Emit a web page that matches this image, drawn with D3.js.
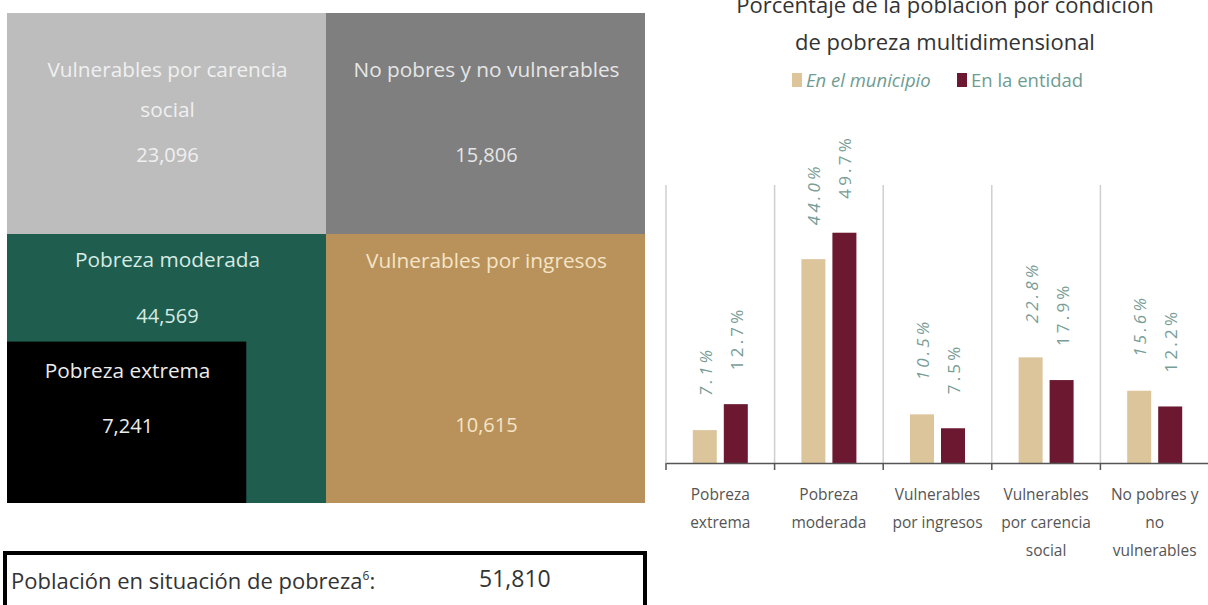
<!DOCTYPE html>
<html>
<head>
<meta charset="utf-8">
<script src="https://cdn.jsdelivr.net/npm/d3@7"></script>
<style>
  body { margin: 0; background: #fff; }
  svg { display: block; font-family: "Open Sans", sans-serif; }
</style>
</head>
<body>
<svg width="1208" height="605"></svg>
<script>
// tiles: population by poverty condition
const tileNames = [
  ['Vulnerables por carencia', 'social'],
  ['No pobres y no vulnerables'],
  ['Pobreza moderada'],
  ['Vulnerables por ingresos'],
  ['Pobreza extrema']
];
const tileValues = [23096, 15806, 44569, 10615, 7241];
const povertyTotal = 51810;

// bar chart: percentage by condition
const categories = [
  ['Pobreza', 'extrema'],
  ['Pobreza', 'moderada'],
  ['Vulnerables', 'por ingresos'],
  ['Vulnerables', 'por carencia', 'social'],
  ['No pobres y', 'no', 'vulnerables']
];
const municipio = [7.1, 44.0, 10.5, 22.8, 15.6];
const entidad = [12.7, 49.7, 7.5, 17.9, 12.2];
const seriesNames = ['En el municipio', 'En la entidad'];

const svg = d3.select('svg');
const fmt = d3.format(',');

// ---- left panel (grid layout) ----
const gx = d3.scaleLinear().domain([0, 1, 2]).range([7, 326, 645]);
const gy = d3.scaleLinear().domain([0, 1, 2]).range([13, 234, 503]);

const tileLayout = [
  { c0: 0, c1: 1, r0: 0, r1: 1, fill: '#bdbdbd', text: '#f0f0f0', nameY: 64, valY: 149 },
  { c0: 1, c1: 2, r0: 0, r1: 1, fill: '#7f7f7f', text: '#e6e6e6', nameY: 64, valY: 149 },
  { c0: 0, c1: 1, r0: 1, r1: 2, fill: '#1f5d4f', text: '#d6ebe2', nameY: 33, valY: 89 },
  { c0: 1, c1: 2, r0: 1, r1: 2, fill: '#b8925a', text: '#f6e4c6', nameY: 34, valY: 198 },
  { c0: 0, c1: 0.75, r0: 1.4, r1: 2, fill: '#000000', text: '#ececec', nameY: 36, valY: 91 }
];

const tiles = svg.append('g').attr('class', 'tiles')
  .selectAll('g')
  .data(tileValues.map((v, i) => ({ value: v, name: tileNames[i], lay: tileLayout[i] })))
  .join('g');

tiles.append('rect')
  .attr('x', d => gx(d.lay.c0))
  .attr('y', d => gy(d.lay.r0))
  .attr('width', d => gx(d.lay.c1) - gx(d.lay.c0))
  .attr('height', d => gy(d.lay.r1) - gy(d.lay.r0))
  .attr('fill', d => d.lay.fill);

tiles.each(function(d) {
  const g = d3.select(this);
  const cx = (gx(d.lay.c0) + gx(d.lay.c1)) / 2 + 1;
  const top = gy(d.lay.r0);
  d.name.forEach((line, j) => {
    g.append('text')
      .attr('x', cx)
      .attr('y', top + d.lay.nameY + j * 40)
      .attr('text-anchor', 'middle')
      .attr('font-size', 20.8)
      .attr('fill', d.lay.text)
      .text(line);
  });
  g.append('text')
    .attr('x', cx)
    .attr('y', top + d.lay.valY)
    .attr('text-anchor', 'middle')
    .attr('font-size', 20)
    .attr('fill', d.lay.text)
    .text(fmt(d.value));
});

// total box
const box = svg.append('g').attr('class', 'total');
box.append('rect')
  .attr('x', 5).attr('y', 553)
  .attr('width', 640).attr('height', 70)
  .attr('fill', 'none')
  .attr('stroke', '#000')
  .attr('stroke-width', 4);
const boxLabel = box.append('text')
  .attr('x', 11).attr('y', 589)
  .attr('font-size', 22)
  .attr('fill', '#333');
boxLabel.append('tspan').text('Población en situación de pobreza');
boxLabel.append('tspan').attr('font-size', 12).attr('dy', -9).text('6');
boxLabel.append('tspan').attr('dy', 9).text(':');
box.append('text')
  .attr('x', 479).attr('y', 587)
  .attr('font-size', 23)
  .attr('fill', '#333')
  .text(fmt(povertyTotal));

// ---- right panel: grouped bars ----
const x0 = d3.scaleBand()
  .domain(d3.range(categories.length))
  .range([666, 1209])
  .padding(0);
const x1 = d3.scaleBand()
  .domain(seriesNames)
  .range([0, 55])
  .paddingInner(0.226)
  .paddingOuter(0);
const y = d3.scaleLinear().domain([0, 60]).range([463, 185]);
const color = d3.scaleOrdinal().domain(seriesNames).range(['#dcc59b', '#6b1830']);
const groupOffset = (x0.bandwidth() - 55) / 2;

// title
const title = svg.append('g').attr('class', 'title')
  .attr('font-size', 22).attr('fill', '#333').attr('text-anchor', 'middle');
title.append('text').attr('x', 945).attr('y', 13).text('Porcentaje de la población por condición');
title.append('text').attr('x', 945).attr('y', 50).text('de pobreza multidimensional');

// legend
const legend = svg.append('g').attr('class', 'legend').attr('font-size', 18.5).attr('fill', '#6f9c92');
const legendX = [792, 957];
seriesNames.forEach((s, i) => {
  legend.append('rect')
    .attr('x', legendX[i]).attr('y', 73)
    .attr('width', 10).attr('height', 14)
    .attr('fill', color(s));
  legend.append('text')
    .attr('x', legendX[i] + 14).attr('y', 87)
    .attr('font-style', i === 0 ? 'italic' : 'normal')
    .text(s);
});

// separators
svg.append('g').attr('class', 'separators')
  .selectAll('line')
  .data(d3.range(categories.length))
  .join('line')
    .attr('x1', d => x0(d)).attr('x2', d => x0(d))
    .attr('y1', y(60)).attr('y2', y(0))
    .attr('stroke', '#cfcfcf')
    .attr('stroke-width', 1.5);

// bars
const rows = categories.map((c, i) => ({ i, values: [municipio[i], entidad[i]] }));
const groups = svg.append('g').attr('class', 'bars')
  .selectAll('g')
  .data(rows)
  .join('g')
    .attr('transform', d => `translate(${x0(d.i) + groupOffset},0)`);

groups.selectAll('rect')
  .data(d => d.values.map((v, k) => ({ key: seriesNames[k], value: v })))
  .join('rect')
    .attr('x', d => x1(d.key))
    .attr('y', d => y(d.value))
    .attr('width', x1.bandwidth())
    .attr('height', d => y(0) - y(d.value))
    .attr('fill', d => color(d.key));

groups.selectAll('text.val')
  .data(d => d.values.map((v, k) => ({ key: seriesNames[k], value: v })))
  .join('text')
    .attr('class', 'val')
    .attr('transform', d => `translate(${x1(d.key) + x1.bandwidth() / 2 + 1},${y(d.value) - 34}) rotate(-90)`)
    .attr('dy', '0.35em')
    .attr('font-size', 17)
    .attr('letter-spacing', 3.2)
    .attr('font-style', d => d.key === seriesNames[0] ? 'italic' : 'normal')
    .attr('fill', '#789c96')
    .text(d => d.value.toFixed(1) + '%');

// x axis
const xAxis = d3.axisBottom(x0).tickSize(0).tickFormat('');
const axisG = svg.append('g')
  .attr('transform', `translate(0,${y(0)})`)
  .call(xAxis);
axisG.select('.domain').attr('stroke', '#555').attr('stroke-width', 1.5);
axisG.selectAll('.tick').remove();
axisG.selectAll('line.tk')
  .data(d3.range(categories.length))
  .join('line')
    .attr('class', 'tk')
    .attr('x1', d => x0(d)).attr('x2', d => x0(d))
    .attr('y1', 0).attr('y2', 7)
    .attr('stroke', '#555').attr('stroke-width', 1.5);

// category labels
svg.append('g').attr('class', 'cat-labels')
  .selectAll('text')
  .data(categories.map((c, i) => ({ i, lines: c })))
  .join('text')
    .attr('text-anchor', 'middle')
    .attr('font-size', 15.5)
    .attr('fill', '#555')
    .each(function(d) {
      d3.select(this).selectAll('tspan')
        .data(d.lines)
        .join('tspan')
          .attr('x', x0(d.i) + x0.bandwidth() / 2)
          .attr('y', (l, j) => 500 + j * 28)
          .text(l => l);
    });
</script>
</body>
</html>
